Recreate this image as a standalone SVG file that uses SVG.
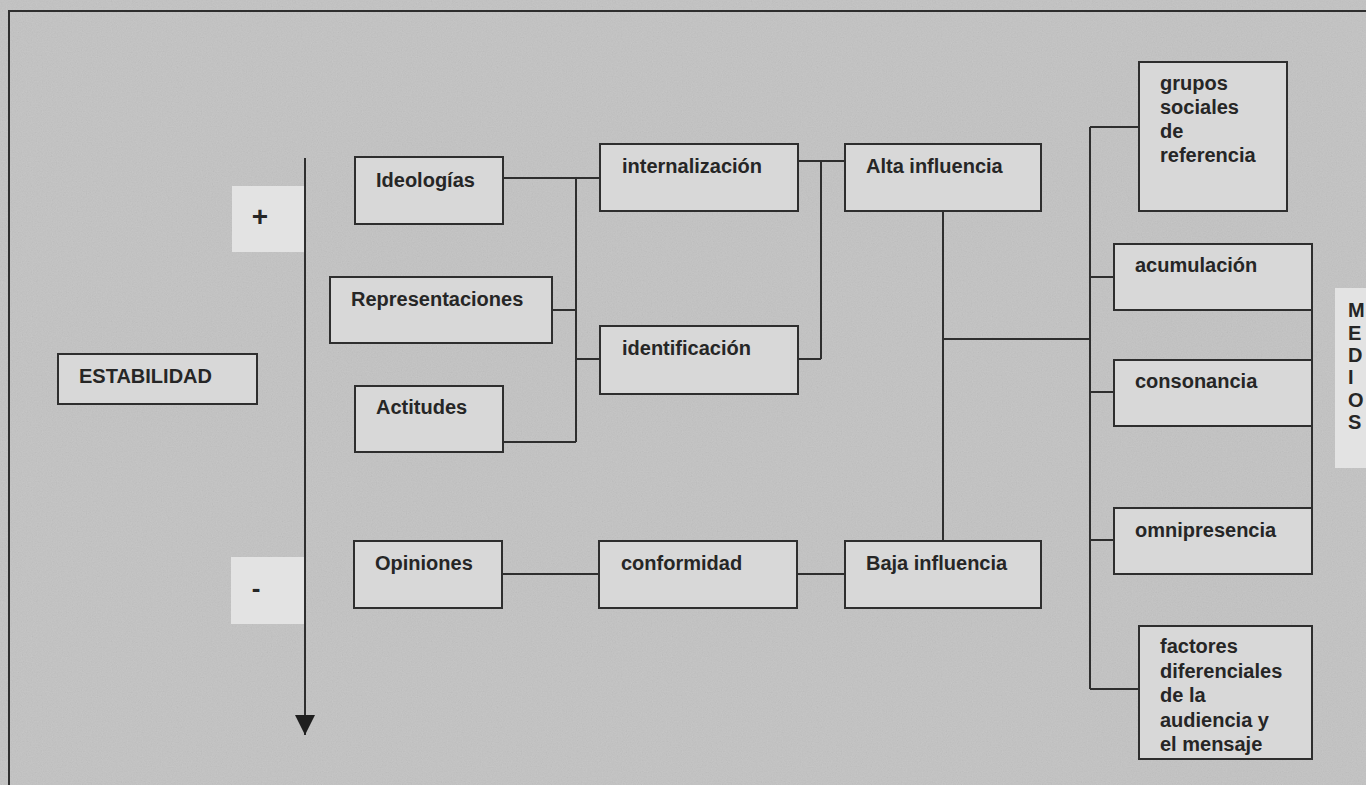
<svg xmlns="http://www.w3.org/2000/svg" width="1366" height="785" viewBox="0 0 1366 785">
<style>
.box{fill:#d8d8d8;stroke:#2e2e2e;stroke-width:2}
.pale{fill:#e3e3e3;stroke:none}
.t{font-family:"Liberation Sans",Arial,sans-serif;font-weight:bold;font-size:20px;fill:#262626}
.sign{font-family:"Liberation Sans",Arial,sans-serif;font-weight:bold;fill:#262626}
.c{fill:none;stroke:#2e2e2e;stroke-width:2}
</style>
<defs>
<marker id="ah" viewBox="0 0 20 20" refX="20" refY="10" markerWidth="20" markerHeight="20" markerUnits="userSpaceOnUse" orient="auto">
<path d="M0,0 L20,10 L0,20 Z" fill="#1e1e1e"/>
</marker>
<filter id="noise" x="0" y="0" width="100%" height="100%">
<feTurbulence type="fractalNoise" baseFrequency="0.8" numOctaves="2" seed="7" result="t"/>
<feColorMatrix in="t" type="matrix" values="0.33 0.33 0.33 0 0  0.33 0.33 0.33 0 0  0.33 0.33 0.33 0 0  0 0 0 0 0.12"/>
</filter>
</defs>
<rect x="0" y="0" width="1366" height="785" fill="#c3c3c3"/>
<rect x="0" y="0" width="1366" height="785" fill="#000" filter="url(#noise)"/>
<path d="M9,786 V11 H1367" fill="none" stroke="#2e2e2e" stroke-width="2"/>

<g id="connectors">
<path class="c" d="M305,158 V735" marker-end="url(#ah)"/>
<path class="c" d="M503,178 H600"/>
<path class="c" d="M576,178 V442"/>
<path class="c" d="M552,310 H576"/>
<path class="c" d="M503,442 H576"/>
<path class="c" d="M576,359 H600"/>
<path class="c" d="M798,161 H845"/>
<path class="c" d="M821,161 V359"/>
<path class="c" d="M798,359 H821"/>
<path class="c" d="M943,211 V541"/>
<path class="c" d="M943,339 H1090"/>
<path class="c" d="M1090,127 V689"/>
<path class="c" d="M1090,127 H1139"/>
<path class="c" d="M1090,277 H1114"/>
<path class="c" d="M1090,392 H1114"/>
<path class="c" d="M1090,540 H1114"/>
<path class="c" d="M1090,689 H1139"/>
<path class="c" d="M1312,244 V508"/>
<path class="c" d="M502,574 H599"/>
<path class="c" d="M797,574 H845"/>
</g>

<g id="plus">
<rect class="pale" x="232" y="186" width="72" height="66"/>
<text class="sign" x="260" y="226" font-size="28" text-anchor="middle">+</text>
</g>
<g id="minus">
<rect class="pale" x="231" y="557" width="73" height="67"/>
<text class="sign" x="256" y="597" font-size="26" text-anchor="middle">-</text>
</g>

<g id="estabilidad"><rect class="box" x="58" y="354" width="199" height="50"/><text class="t" x="79" y="383">ESTABILIDAD</text></g>
<g id="ideologias"><rect class="box" x="355" y="157" width="148" height="67"/><text class="t" x="376" y="187">Ideologías</text></g>
<g id="representaciones"><rect class="box" x="330" y="277" width="222" height="66"/><text class="t" x="351" y="306">Representaciones</text></g>
<g id="actitudes"><rect class="box" x="355" y="386" width="148" height="66"/><text class="t" x="376" y="414">Actitudes</text></g>
<g id="opiniones"><rect class="box" x="354" y="541" width="148" height="67"/><text class="t" x="375" y="570">Opiniones</text></g>
<g id="internalizacion"><rect class="box" x="600" y="144" width="198" height="67"/><text class="t" x="622" y="173">internalización</text></g>
<g id="identificacion"><rect class="box" x="600" y="326" width="198" height="68"/><text class="t" x="622" y="355">identificación</text></g>
<g id="conformidad"><rect class="box" x="599" y="541" width="198" height="67"/><text class="t" x="621" y="570">conformidad</text></g>
<g id="alta"><rect class="box" x="845" y="144" width="196" height="67"/><text class="t" x="866" y="173">Alta influencia</text></g>
<g id="baja"><rect class="box" x="845" y="541" width="196" height="67"/><text class="t" x="866" y="570">Baja influencia</text></g>
<g id="grupos"><rect class="box" x="1139" y="62" width="148" height="149"/>
<text class="t" x="1160" y="90">grupos</text>
<text class="t" x="1160" y="114">sociales</text>
<text class="t" x="1160" y="138">de</text>
<text class="t" x="1160" y="162">referencia</text></g>
<g id="acumulacion"><rect class="box" x="1114" y="244" width="198" height="66"/><text class="t" x="1135" y="272">acumulación</text></g>
<g id="consonancia"><rect class="box" x="1114" y="360" width="198" height="66"/><text class="t" x="1135" y="388">consonancia</text></g>
<g id="omnipresencia"><rect class="box" x="1114" y="508" width="198" height="66"/><text class="t" x="1135" y="537">omnipresencia</text></g>
<g id="factores"><rect class="box" x="1139" y="626" width="173" height="133"/>
<text class="t" x="1160" y="653">factores</text>
<text class="t" x="1160" y="678">diferenciales</text>
<text class="t" x="1160" y="702">de la</text>
<text class="t" x="1160" y="727">audiencia y</text>
<text class="t" x="1160" y="751">el mensaje</text></g>
<g id="medios"><rect class="pale" x="1335" y="288" width="40" height="180"/>
<text class="t" x="1348" y="317">M</text>
<text class="t" x="1348" y="340">E</text>
<text class="t" x="1348" y="362">D</text>
<text class="t" x="1348" y="384">I</text>
<text class="t" x="1348" y="407">O</text>
<text class="t" x="1348" y="429">S</text></g>
</svg>
